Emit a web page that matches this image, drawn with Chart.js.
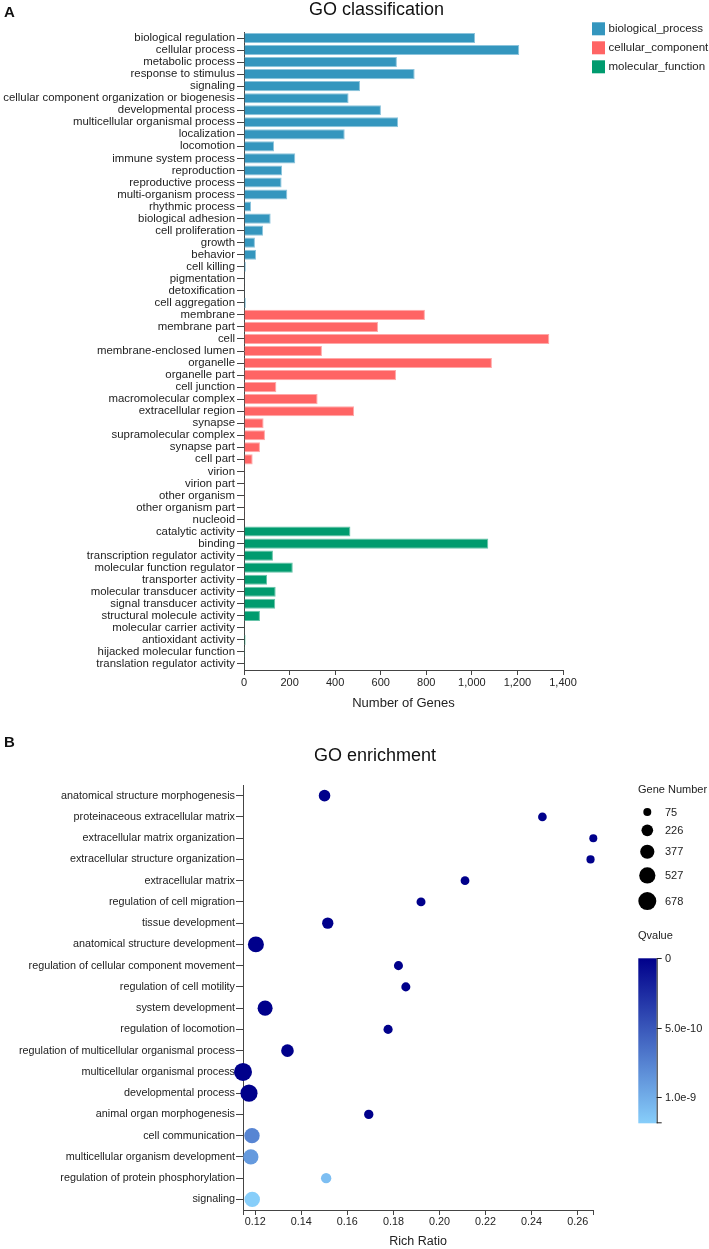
<!DOCTYPE html>
<html>
<head>
<meta charset="utf-8">
<title>GO classification / GO enrichment</title>
<script src="https://cdn.jsdelivr.net/npm/chart.js@4.4.1/dist/chart.umd.min.js"></script>
<style>
  html, body { margin: 0; padding: 0; background: #fff; }
  #wrap { position: relative; width: 709px; height: 1249px; }
  canvas { position: absolute; left: 0; }
  #classChart { top: 0; }
  #enrichChart { top: 722px; }
</style>
</head>
<body>
<div id="wrap">
  <canvas id="classChart" width="709" height="722"></canvas>
  <canvas id="enrichChart" width="709" height="527"></canvas>
</div>
<script>
// ─── A: GO classification data ─────────────────
const bpTerms = [
  "biological regulation", "cellular process", "metabolic process", "response to stimulus",
  "signaling", "cellular component organization or biogenesis", "developmental process",
  "multicellular organismal process", "localization", "locomotion", "immune system process",
  "reproduction", "reproductive process", "multi-organism process", "rhythmic process",
  "biological adhesion", "cell proliferation", "growth", "behavior", "cell killing",
  "pigmentation", "detoxification", "cell aggregation"
];
const bpCounts = [1014, 1208, 671, 749, 509, 459, 601, 676, 442, 132, 225, 167, 165, 190, 31, 117, 84, 48, 53, 8, 1, 1, 8];

const ccTerms = [
  "membrane", "membrane part", "cell", "membrane-enclosed lumen", "organelle", "organelle part",
  "cell junction", "macromolecular complex", "extracellular region", "synapse",
  "supramolecular complex", "synapse part", "cell part", "virion", "virion part",
  "other organism", "other organism part", "nucleoid"
];
const ccCounts = [794, 588, 1340, 342, 1088, 667, 142, 323, 483, 86, 92, 70, 38, 1, 1, 1, 1, 1];

const mfTerms = [
  "catalytic activity", "binding", "transcription regulator activity", "molecular function regulator",
  "transporter activity", "molecular transducer activity", "signal transducer activity",
  "structural molecule activity", "molecular carrier activity", "antioxidant activity",
  "hijacked molecular function", "translation regulator activity"
];
const mfCounts = [467, 1072, 127, 214, 101, 139, 137, 70, 1, 7, 4, 1];

const groupNames = ["biological_process", "cellular_component", "molecular_function"];
const groupColors = ["#3496BE", "#FF6464", "#009B6E"];
const groupEdges = ["#8CC4DC", "#FFA8A8", "#66C3A8"];
const countMax = 1400;
const countStep = 200;

// ─── B: GO enrichment data ─────────────────
const enrichTerms = [
  "anatomical structure morphogenesis", "proteinaceous extracellular matrix",
  "extracellular matrix organization", "extracellular structure organization",
  "extracellular matrix", "regulation of cell migration", "tissue development",
  "anatomical structure development", "regulation of cellular component movement",
  "regulation of cell motility", "system development", "regulation of locomotion",
  "regulation of multicellular organismal process", "multicellular organismal process",
  "developmental process", "animal organ morphogenesis", "cell communication",
  "multicellular organism development", "regulation of protein phosphorylation", "signaling"
];
const richRatio = [0.1501, 0.2447, 0.2668, 0.2656, 0.2111, 0.1920, 0.1515, 0.1203, 0.1822, 0.1854,
                   0.1243, 0.1777, 0.1340, 0.1147, 0.1173, 0.1693, 0.1186, 0.1181, 0.1508, 0.1187];
const geneNumber = [220, 96, 75, 80, 100, 108, 209, 509, 110, 110,
                    434, 115, 281, 678, 601, 121, 465, 455, 162, 470];
const qValue = [2e-13, 5e-14, 1e-14, 2e-14, 3e-14, 4e-13, 6e-13, 1e-13, 8e-13, 7e-13,
                3e-13, 9e-13, 5e-13, 1e-15, 2e-15, 1e-12, 7.7e-10, 8.9e-10, 1.1e-9, 1.19e-9];
const richTicks = [0.12, 0.14, 0.16, 0.18, 0.20, 0.22, 0.24, 0.26];
const sizeLegend = [75, 226, 377, 527, 678];
const qTicks = [0, 5e-10, 1e-9];
const qTickLabels = ["0", "5.0e-10", "1.0e-9"];

Chart.defaults.font.family = '"Liberation Sans", Arial, sans-serif';
Chart.defaults.color = "#222";

const FONT = '"Liberation Sans", Arial, sans-serif';
const qMax = Math.max(...qValue);
const qLow = [0, 0, 139], qHigh = [135, 206, 250];

function qColor(q) {
  const t = Math.min(1, Math.max(0, q / qMax));
  const c = qLow.map((v, i) => Math.round(v + (qHigh[i] - v) * t));
  return `rgb(${c[0]},${c[1]},${c[2]})`;
}

function bubbleRadius(n) {
  const a = Math.sqrt(sizeLegend[0]);
  const b = Math.sqrt(sizeLegend[sizeLegend.length - 1]);
  return 4 + 5 * (Math.sqrt(n) - a) / (b - a);
}

// ─── 畫 A 圖：橫向長條 ─────────────────
const allTerms = bpTerms.concat(ccTerms, mfTerms);
const groupCounts = [bpCounts, ccCounts, mfCounts];
let offset = 0;
const classSets = groupCounts.map((counts, g) => {
  const data = new Array(allTerms.length).fill(null);
  counts.forEach((v, i) => { data[offset + i] = v; });
  offset += counts.length;
  return {
    label: groupNames[g],
    data,
    backgroundColor: groupColors[g],
    borderColor: groupEdges[g],
    borderWidth: 1,
    grouped: false,
    barPercentage: 0.84,
    categoryPercentage: 1
  };
});

const classDecor = {
  id: "classDecor",
  afterDraw(chart) {
    const ctx = chart.ctx;
    ctx.save();
    ctx.fillStyle = "#111";
    ctx.textBaseline = "alphabetic";
    ctx.font = "bold 15px " + FONT;
    ctx.textAlign = "left";
    ctx.fillText("A", 4, 17);
    ctx.font = "18px " + FONT;
    ctx.textAlign = "center";
    ctx.fillText("GO classification", 376.5, 15);
    ctx.font = "11.5px " + FONT;
    ctx.textAlign = "left";
    ctx.textBaseline = "middle";
    groupNames.forEach((name, i) => {
      const y = 28.8 + i * 19;
      ctx.fillStyle = groupColors[i];
      ctx.fillRect(592, y - 6.5, 13, 13);
      ctx.fillStyle = "#222";
      ctx.fillText(name, 608.5, y + 0.5);
    });
    ctx.restore();
  }
};

new Chart(document.getElementById("classChart"), {
  type: "bar",
  data: { labels: allTerms, datasets: classSets },
  options: {
    indexAxis: "y",
    responsive: false,
    animation: false,
    layout: { padding: { top: 32, right: 146, bottom: 0, left: 0 } },
    plugins: { legend: { display: false }, tooltip: { enabled: false } },
    scales: {
      x: {
        min: 0, max: countMax,
        ticks: { stepSize: countStep, font: { size: 11 }, color: "#222", padding: 1 },
        grid: { drawOnChartArea: false, drawTicks: true, tickLength: 5, color: "#444" },
        border: { color: "#444" },
        title: { display: true, text: "Number of Genes", font: { size: 13 }, color: "#222", padding: { top: 0, bottom: 11 } },
        afterFit(scale) { scale.height = 52; }
      },
      y: {
        ticks: { autoSkip: false, font: { size: 11.4 }, color: "#222", padding: 2 },
        grid: { drawOnChartArea: false, drawTicks: true, tickLength: 7, color: "#444", offset: false },
        border: { color: "#444" },
        afterFit(scale) { scale.width = 244; }
      }
    }
  },
  plugins: [classDecor]
});

// ─── 畫 B 圖：氣泡圖 ─────────────────
const enrichPoints = enrichTerms.map((t, i) => ({ x: richRatio[i], y: t, r: bubbleRadius(geneNumber[i]) }));
const richMin = Math.min(...richRatio);
const richMax = Math.max(...richRatio);

const enrichDecor = {
  id: "enrichDecor",
  afterDraw(chart) {
    const ctx = chart.ctx;
    ctx.save();
    ctx.fillStyle = "#111";
    ctx.textBaseline = "alphabetic";
    ctx.font = "bold 15px " + FONT;
    ctx.textAlign = "left";
    ctx.fillText("B", 4, 24.7);
    ctx.font = "18px " + FONT;
    ctx.textAlign = "center";
    ctx.fillText("GO enrichment", 375, 39);

    // size legend
    ctx.fillStyle = "#222";
    ctx.textAlign = "left";
    ctx.textBaseline = "middle";
    ctx.font = "11px " + FONT;
    ctx.fillText("Gene Number", 638, 68);
    let y = 90, prevR = 0;
    sizeLegend.forEach((n, i) => {
      const r = bubbleRadius(n);
      if (i > 0) y += prevR + r + 8.5;
      ctx.fillStyle = "#000";
      ctx.beginPath();
      ctx.arc(647.3, y, r, 0, Math.PI * 2);
      ctx.fill();
      ctx.fillStyle = "#222";
      ctx.fillText(String(n), 665, y + 0.5);
      prevR = r;
    });

    // Qvalue colour bar
    ctx.fillText("Qvalue", 638, 213.5);
    const top = 236.3, h = 165, left = 638.3, w = 18.4;
    const grad = ctx.createLinearGradient(0, top, 0, top + h);
    grad.addColorStop(0, qColor(0));
    grad.addColorStop(1, qColor(qMax));
    ctx.fillStyle = grad;
    ctx.fillRect(left, top, w, h);
    ctx.strokeStyle = "#222";
    ctx.lineWidth = 1;
    ctx.beginPath();
    ctx.moveTo(left + w + 0.5, top);
    ctx.lineTo(left + w + 0.5, top + h);
    ctx.moveTo(left + w, top + h - 0.5);
    ctx.lineTo(left + w + 5, top + h - 0.5);
    ctx.stroke();
    ctx.fillStyle = "#222";
    qTicks.forEach((q, i) => {
      const ty = Math.round(top + (q / qMax) * h) + 0.5;
      ctx.beginPath();
      ctx.moveTo(left + w, ty);
      ctx.lineTo(left + w + 5, ty);
      ctx.stroke();
      ctx.fillText(qTickLabels[i], 665, ty);
    });
    ctx.restore();
  }
};

new Chart(document.getElementById("enrichChart"), {
  type: "bubble",
  data: {
    datasets: [{
      label: "GO enrichment",
      data: enrichPoints,
      backgroundColor: qValue.map(qColor),
      borderWidth: 0,
      hoverBorderWidth: 0,
      clip: false
    }]
  },
  options: {
    responsive: false,
    animation: false,
    layout: { padding: { top: 63, right: 115.7, bottom: 0, left: 0 } },
    plugins: { legend: { display: false }, tooltip: { enabled: false } },
    scales: {
      x: {
        type: "linear",
        min: richMin, max: richMax,
        afterBuildTicks(scale) {
          scale.ticks = [richMin].concat(richTicks, [richMax]).map(v => ({ value: v }));
        },
        ticks: {
          font: { size: 10.8 }, color: "#222", padding: 1, autoSkip: false,
          callback: (v) => richTicks.some(t => Math.abs(t - v) < 1e-9) ? Number(v).toFixed(2) : ""
        },
        grid: { drawOnChartArea: false, drawTicks: true, tickLength: 5, color: "#444" },
        border: { color: "#444" },
        title: { display: true, text: "Rich Ratio", font: { size: 12.5 }, color: "#222", padding: 0 },
        afterFit(scale) { scale.height = 39; }
      },
      y: {
        type: "category",
        labels: enrichTerms,
        offset: true,
        ticks: { autoSkip: false, font: { size: 10.8 }, color: "#222", padding: 1 },
        grid: { drawOnChartArea: false, drawTicks: true, tickLength: 7, color: "#444", offset: false },
        border: { color: "#444" },
        afterFit(scale) { scale.width = 243; }
      }
    }
  },
  plugins: [enrichDecor]
});
</script>
</body>
</html>
